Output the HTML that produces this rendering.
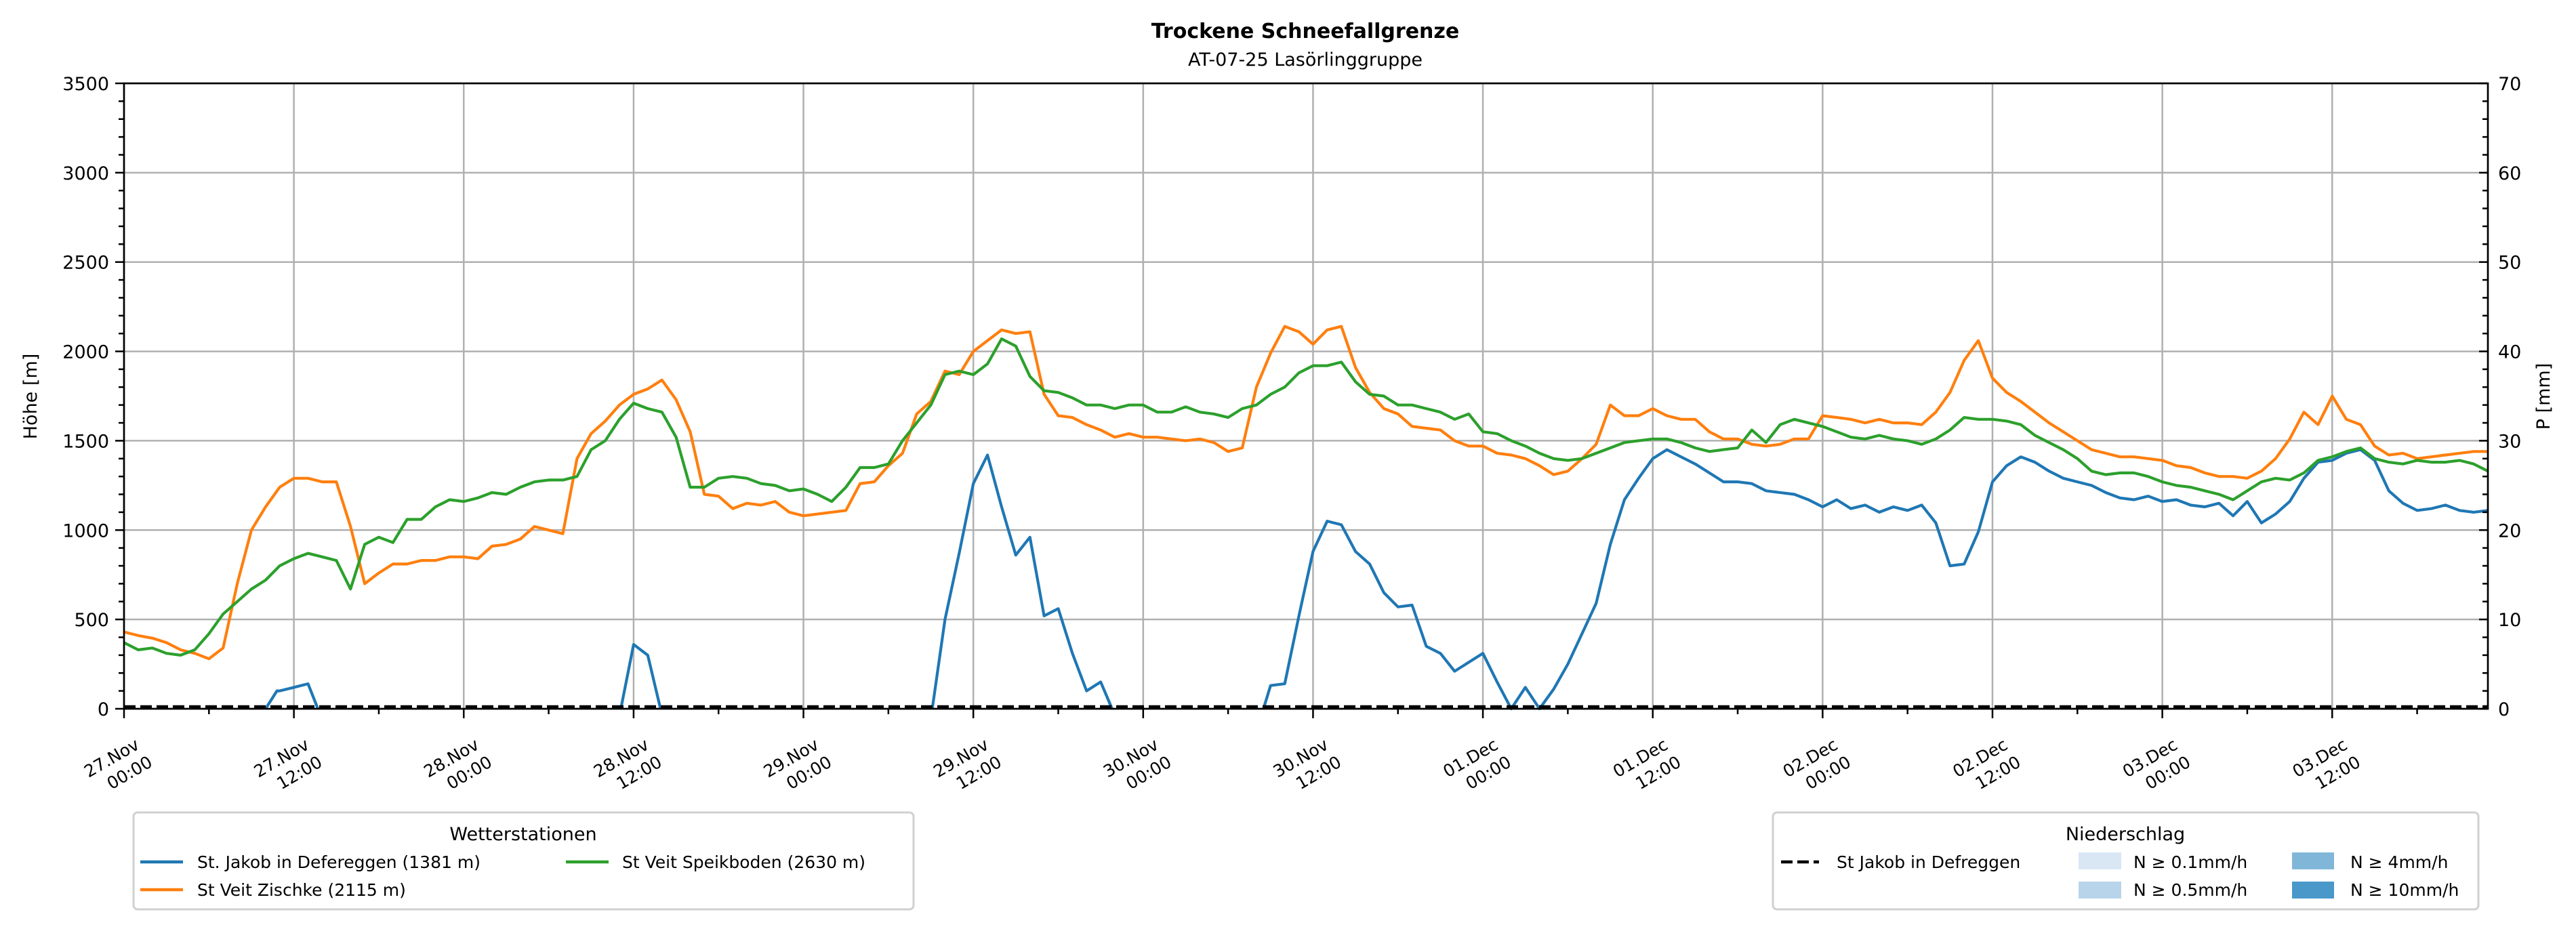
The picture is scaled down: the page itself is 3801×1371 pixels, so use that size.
<!DOCTYPE html>
<html><head><meta charset="utf-8"><style>
html,body{margin:0;padding:0;background:#fff;}
svg{display:block;font-family:"DejaVu Sans","Liberation Sans",sans-serif;}
</style></head><body>
<svg id="s" width="3801" height="1371" xmlns="http://www.w3.org/2000/svg">
<rect width="3801" height="1371" fill="#fff"/>
<g id="grid"></g>
<g id="series"></g>
<g id="axes"></g>
<text x="1926" y="56" font-size="30" font-weight="bold" text-anchor="middle">Trockene Schneefallgrenze</text>
<text x="1926" y="97" font-size="27" text-anchor="middle">AT-07-25 Lasörlinggruppe</text>
<text transform="translate(54,585) rotate(-90)" font-size="27" text-anchor="middle">Höhe [m]</text>
<text transform="translate(3762,585) rotate(-90)" font-size="27" text-anchor="middle">P [mm]</text>
<rect x="197" y="1199" width="1151" height="143" rx="6" fill="#fff" stroke="#d0d0d0" stroke-width="3"/>
<text x="772" y="1240" font-size="27" text-anchor="middle">Wetterstationen</text>
<line x1="207" y1="1272" x2="270" y2="1272" stroke="#1f77b4" stroke-width="4.5"/>
<text x="291" y="1281" font-size="25">St. Jakob in Defereggen (1381 m)</text>
<line x1="835" y1="1272" x2="898" y2="1272" stroke="#2ca02c" stroke-width="4.5"/>
<text x="918" y="1281" font-size="25">St Veit Speikboden (2630 m)</text>
<line x1="207" y1="1313" x2="270" y2="1313" stroke="#ff7f0e" stroke-width="4.5"/>
<text x="291" y="1322" font-size="25">St Veit Zischke (2115 m)</text>
<rect x="2616" y="1199" width="1041" height="143" rx="6" fill="#fff" stroke="#d0d0d0" stroke-width="3"/>
<text x="3136" y="1240" font-size="27" text-anchor="middle">Niederschlag</text>
<line x1="2628" y1="1272" x2="2684" y2="1272" stroke="#000" stroke-width="4.5" stroke-dasharray="17,7"/>
<text x="2710" y="1281" font-size="25">St Jakob in Defreggen</text>
<rect x="3067" y="1258" width="63" height="25" fill="#d9e7f5"/>
<text x="3148" y="1281" font-size="25">N ≥ 0.1mm/h</text>
<rect x="3067" y="1301" width="63" height="25" fill="#b8d4ea"/>
<text x="3148" y="1322" font-size="25">N ≥ 0.5mm/h</text>
<rect x="3382" y="1258" width="62" height="25" fill="#80b7d9"/>
<text x="3468" y="1281" font-size="25">N ≥ 4mm/h</text>
<rect x="3382" y="1301" width="62" height="25" fill="#4a97c9"/>
<text x="3468" y="1322" font-size="25">N ≥ 10mm/h</text>
</svg>
<script>
var L=183,R=3671,T=123,B=1046,H=167;
function X(h){return L+(R-L)*h/H;}
function Y(v){return B-(B-T)*v/3500;}
var NS="http://www.w3.org/2000/svg";
function el(p,tag,a,txt){var e=document.createElementNS(NS,tag);for(var k in a)e.setAttribute(k,a[k]);if(txt!=null)e.textContent=txt;p.appendChild(e);return e;}
var g=document.getElementById('grid'),ax=document.getElementById('axes'),se=document.getElementById('series');
for(var v=500;v<=3000;v+=500)el(g,'line',{x1:L,x2:R,y1:Y(v),y2:Y(v),stroke:'#b0b0b0','stroke-width':2.5});
for(var h=12;h<H;h+=12)el(g,'line',{x1:X(h),x2:X(h),y1:T,y2:B,stroke:'#b0b0b0','stroke-width':2.5});
var O=[430,410,395,370,330,310,280,340,700,1000,1130,1240,1290,1290,1270,1270,1020,700,760,810,810,830,830,850,850,840,910,920,950,1020,1000,980,1400,1540,1610,1700,1760,1790,1840,1730,1550,1200,1190,1120,1150,1140,1160,1100,1080,1090,1100,1110,1260,1270,1360,1430,1650,1720,1890,1870,2000,2060,2120,2100,2110,1760,1640,1630,1590,1560,1520,1540,1520,1520,1510,1500,1510,1490,1440,1460,1800,1990,2140,2110,2040,2120,2140,1910,1770,1680,1650,1580,1570,1560,1500,1470,1470,1430,1420,1400,1360,1310,1330,1400,1480,1700,1640,1640,1680,1640,1620,1620,1550,1510,1510,1480,1470,1480,1510,1510,1640,1630,1620,1600,1620,1600,1600,1590,1660,1770,1950,2060,1850,1770,1720,1660,1600,1550,1500,1450,1430,1410,1410,1400,1390,1360,1350,1320,1300,1300,1290,1330,1400,1510,1660,1590,1750,1620,1590,1470,1420,1430,1400,1410,1420,1430,1440,1440];
var G=[370,330,340,310,300,330,420,530,600,670,720,800,840,870,850,830,670,920,960,930,1060,1060,1130,1170,1160,1180,1210,1200,1240,1270,1280,1280,1300,1450,1500,1620,1710,1680,1660,1520,1240,1240,1290,1300,1290,1260,1250,1220,1230,1200,1160,1240,1350,1350,1370,1500,1600,1700,1870,1890,1870,1930,2070,2030,1860,1780,1770,1740,1700,1700,1680,1700,1700,1660,1660,1690,1660,1650,1630,1680,1700,1760,1800,1880,1920,1920,1940,1830,1760,1750,1700,1700,1680,1660,1620,1650,1550,1540,1500,1470,1430,1400,1390,1400,1430,1460,1490,1500,1510,1510,1490,1460,1440,1450,1460,1560,1490,1590,1620,1600,1580,1550,1520,1510,1530,1510,1500,1480,1510,1560,1630,1620,1620,1610,1590,1530,1490,1450,1400,1330,1310,1320,1320,1300,1270,1250,1240,1220,1200,1170,1220,1270,1290,1280,1320,1390,1410,1440,1460,1400,1380,1370,1390,1380,1380,1390,1370,1330];
var Bl={10:0,10.8:100,11:100,12:120,13:140,13.7:0,35.1:0,36:360,37:300,37.9:0,57.1:0,58:500,59:870,60:1260,61:1420,62:1130,63:860,64:960,65:520,66:560,67:310,68:100,69:150,69.8:0,80.5:0,81:130,82:140,83:520,84:880,85:1050,86:1030,87:880,88:810,89:650,90:570,91:580,92:350,93:310,94:210,95:260,96:310,97:150,98:0,99:120,100:0,101:110,102:250,103:420,104:590,105:920,106:1170,107:1290,108:1400,109:1450,110:1410,111:1370,112:1320,113:1270,114:1270,115:1260,116:1220,117:1210,118:1200,119:1170,120:1130,121:1170,122:1120,123:1140,124:1100,125:1130,126:1110,127:1140,128:1040,129:800,130:810,131:990,132:1270,133:1360,134:1410,135:1380,136:1330,137:1290,138:1270,139:1250,140:1210,141:1180,142:1170,143:1190,144:1160,145:1170,146:1140,147:1130,148:1150,149:1080,150:1160,151:1040,152:1090,153:1160,154:1290,155:1380,156:1390,157:1430,158:1450,159:1390,160:1220,161:1150,162:1110,163:1120,164:1140,165:1110,166:1100,167:1110};
function poly(pts,c){el(se,'polyline',{points:pts.join(' '),fill:'none',stroke:c,'stroke-width':4.2,'stroke-linejoin':'round'});}
var ks=Object.keys(Bl).map(Number).sort(function(a,b){return a-b;});
var cur=[];for(var i=0;i<ks.length;i++){var k=ks[i];var v=Bl[k];cur.push(X(k).toFixed(1)+','+Y(v).toFixed(1));if(v==0&&cur.length>1&&i+1<ks.length&&Bl[ks[i+1]]==0){poly(cur,'#1f77b4');cur=[];}}
if(cur.length>1)poly(cur,'#1f77b4');
poly(O.map(function(v,i){return X(i).toFixed(1)+','+Y(v).toFixed(1);}),'#ff7f0e');
poly(G.map(function(v,i){return X(i).toFixed(1)+','+Y(v).toFixed(1);}),'#2ca02c');
el(se,'line',{x1:L,x2:R,y1:B-3,y2:B-3,stroke:'#000','stroke-width':4.5,'stroke-dasharray':'17,7'});
el(ax,'rect',{x:L,y:T,width:R-L,height:B-T,fill:'none',stroke:'#000','stroke-width':2.7});
for(var v=0;v<=3500;v+=100){var maj=v%500==0;el(ax,'line',{x1:L-(maj?13:8),x2:L,y1:Y(v),y2:Y(v),stroke:'#000','stroke-width':2.5});
 if(maj)el(ax,'text',{x:L-22,y:Y(v)+10,'font-size':27,'text-anchor':'end'},String(v));}
for(var p=0;p<=70;p+=2){var y=B-(B-T)*p/70;el(ax,'line',{x1:R-(p%10==0?13:8),x2:R,y1:y,y2:y,stroke:'#000','stroke-width':2.5});
 if(p%10==0)el(ax,'text',{x:R+15,y:y+10,'font-size':27},String(p));}
var labs=[['27.Nov','00:00'],['27.Nov','12:00'],['28.Nov','00:00'],['28.Nov','12:00'],['29.Nov','00:00'],['29.Nov','12:00'],['30.Nov','00:00'],['30.Nov','12:00'],['01.Dec','00:00'],['01.Dec','12:00'],['02.Dec','00:00'],['02.Dec','12:00'],['03.Dec','00:00'],['03.Dec','12:00']];
for(var h=0;h<=H;h+=6){var maj=h%12==0;var x=X(h);el(ax,'line',{x1:x,x2:x,y1:B,y2:B+(maj?14:8),stroke:'#000','stroke-width':2.5});
 if(maj){var l=labs[h/12];var t=el(ax,'text',{transform:'translate('+(x-14)+','+(B+80)+') rotate(-30)','font-size':25,'text-anchor':'middle'});
  el(t,'tspan',{x:0,y:0},l[0]);el(t,'tspan',{x:12,y:32},l[1]);}}
</script>
</body></html>
